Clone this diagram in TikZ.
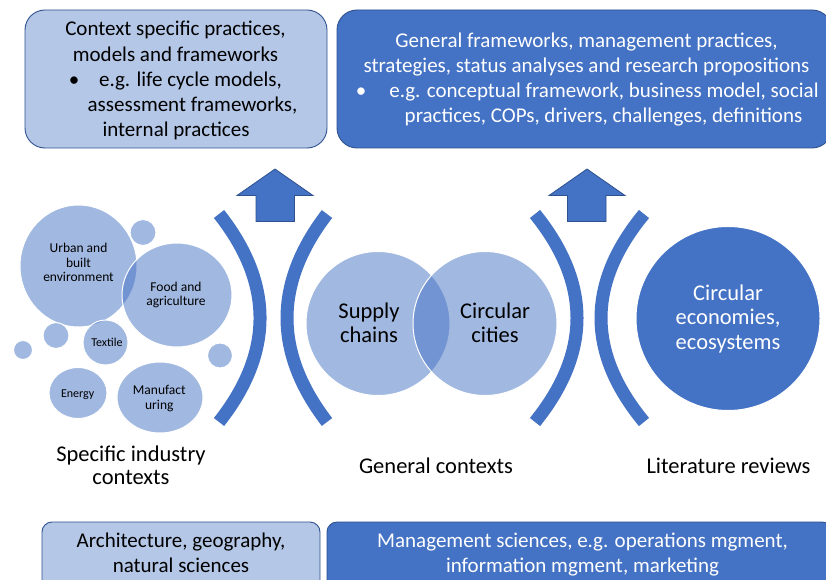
\documentclass[tikz,border=0pt]{standalone}
\usepackage{fontspec}
\setmainfont{Carlito}
\usetikzlibrary{shapes.geometric}
\definecolor{acc}{HTML}{4472C4}
\definecolor{accd}{HTML}{2F528F}
\definecolor{accl}{HTML}{B4C7E7}
\begin{document}
\begin{tikzpicture}[x=1pt,y=-1pt,
  lbox/.style={draw=accd, fill=accl, line width=0.9pt, rounded corners=20pt, inner sep=0pt},
  dbox/.style={draw=accd, fill=acc, line width=0.9pt, rounded corners=20pt, inner sep=0pt},
  txt/.style={anchor=base, inner sep=0pt, font=\fontsize{21}{25}\selectfont},
  wtxt/.style={txt, text=white},
  mid/.style={anchor=base, inner sep=0pt, font=\fontsize{22.5}{24}\selectfont},
  lab/.style={anchor=base, inner sep=0pt, font=\fontsize{22.5}{24}\selectfont},
  sm/.style={anchor=base, inner sep=0pt, font=\fontsize{13.5}{15}\selectfont},
  smm/.style={anchor=base, inner sep=0pt, font=\fontsize{12}{14}\selectfont},
  bub/.style={fill=acc, fill opacity=0.5, draw=white, line width=1pt, inner sep=0pt},
  band/.style={draw=acc, line width=13pt},
  uparrow/.style={fill=acc, draw=accd, line width=0.8pt},
]
\useasboundingbox (0,0) rectangle (826,580);
\fill[white] (0,0) rectangle (826,580);

% top boxes
\node[lbox, minimum width=302pt, minimum height=138pt] (ctxbox) at (176,79) {};
\node[dbox, minimum width=495pt, minimum height=138pt] (genbox) at (584.5,79) {};

\node[txt] (c1) at (175.5,36) {Context specific practices,};
\node[txt] (c2) at (175.5,61.5) {models and frameworks};
\node[txt] (cb) at (74,86.5) {•};
\node[txt] (c3) at (190.5,86.5) {e.g. life cycle models,};
\node[txt] (c4) at (192.5,111.5) {assessment frameworks,};
\node[txt] (c5) at (176,136.5) {internal practices};

\node[wtxt] (g1) at (586.5,48) {General frameworks, management practices,};
\node[wtxt] (g2) at (586.5,73) {strategies, status analyses and research propositions};
\node[wtxt] (gb) at (361,98) {•};
\node[wtxt] (g3) at (604,98) {e.g. conceptual framework, business model, social};
\node[wtxt] (g4) at (603.5,123) {practices, COPs, drivers, challenges, definitions};

% arrows
\draw[uparrow] (275,169) -- (313,195.5) -- (294.5,195.5) -- (294.5,221.5) -- (256,221.5) -- (256,195.5) -- (237,195.5) -- cycle;
\draw[uparrow] (587,169) -- (625,195.5) -- (606,195.5) -- (606,221.5) -- (567.5,221.5) -- (567.5,195.5) -- (549,195.5) -- cycle;

% bands
\draw[band] (219,214) .. controls (273.7,283.3) and (273.7,352.7) .. (219,422);
\draw[band] (327,214) .. controls (273.7,283.3) and (273.7,352.7) .. (327,422);
\draw[band] (535,214) .. controls (591,283.3) and (591,352.7) .. (535,422);
\draw[band] (644,214) .. controls (586.7,283.3) and (586.7,352.7) .. (644,422);

% bubbles
\node[bub, ellipse, minimum width=117pt, minimum height=122pt] (urban) at (78.5,266) {};
\node[bub, circle, minimum size=26pt] (s1) at (143,232.5) {};
\node[bub, ellipse, minimum width=110pt, minimum height=104pt] (food) at (177,295) {};
\node[bub, circle, minimum size=26pt] (s2) at (56,335.5) {};
\node[bub, circle, minimum size=45pt] (textile) at (105.5,342.5) {};
\node[bub, circle, minimum size=19pt] (s3) at (23,350) {};
\node[bub, circle, minimum size=25pt] (s4) at (220,355.5) {};
\node[bub, ellipse, minimum width=58pt, minimum height=51pt] (energy) at (78,393) {};
\node[bub, ellipse, minimum width=86pt, minimum height=71pt] (manuf) at (160,397.5) {};

\node[sm] (u1) at (78.5,252.7) {Urban and};
\node[sm] (u2) at (78.5,267) {built};
\node[sm] (u3) at (78.5,281.7) {environment};
\node[sm] (f1) at (176,291) {Food and};
\node[sm] (f2) at (176,305.5) {agriculture};
\node[smm] (t1) at (107,346) {Textile};
\node[smm] (e1) at (77.7,397.3) {Energy};
\node[sm] (m1) at (159.3,394.3) {Manufact};
\node[sm] (m2) at (159.3,409) {uring};

% venn
\node[bub, circle, minimum size=144pt] (supply) at (378,323.5) {};
\node[bub, circle, minimum size=144pt] (cities) at (485,323.5) {};
\node[mid] (sp1) at (369,318) {Supply};
\node[mid] (sp2) at (369,342) {chains};
\node[mid] (ci1) at (495,318) {Circular};
\node[mid] (ci2) at (495,342) {cities};

% circular economies
\node[circle, fill=acc, draw=white, line width=1pt, minimum size=184pt, inner sep=0pt] (ce) at (728,318.5) {};
\node[mid, text=white] (ce1) at (728,300) {Circular};
\node[mid, text=white] (ce2) at (728,324.5) {economies,};
\node[mid, text=white] (ce3) at (728,349) {ecosystems};

% labels
\node[lab] (l1) at (131,461) {Specific industry};
\node[lab] (l2) at (131,484) {contexts};
\node[lab] (l3) at (436,473) {General contexts};
\node[lab] (l4) at (728.5,473) {Literature reviews};

% bottom boxes
\node[lbox, rounded corners=10pt, minimum width=278pt, minimum height=78pt] (archbox) at (181,561) {};
\node[dbox, rounded corners=10pt, minimum width=505pt, minimum height=78pt] (mgmtbox) at (579.5,561) {};
\node[txt] (a1) at (181,547) {Architecture, geography,};
\node[txt] (a2) at (181,572) {natural sciences};
\node[wtxt] (b1) at (582.5,547) {Management sciences, e.g. operations mgment,};
\node[wtxt] (b2) at (582.5,572) {information mgment, marketing};
\end{tikzpicture}
\end{document}
